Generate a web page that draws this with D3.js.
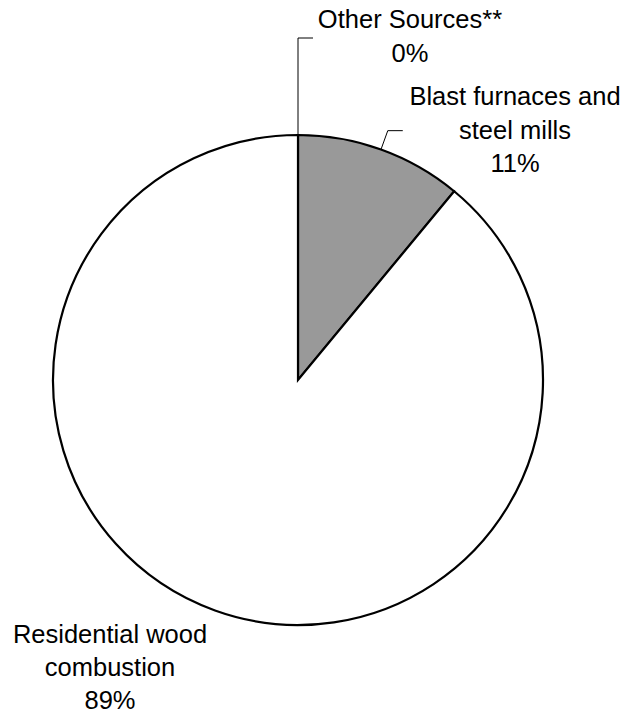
<!DOCTYPE html>
<html>
<head>
<meta charset="utf-8">
<script src="https://cdn.jsdelivr.net/npm/d3@7"></script>
<style>
  html, body { margin: 0; padding: 0; background: #fff; }
  svg { display: block; }
  text { font-family: "Liberation Sans", Arial, sans-serif; fill: #000; }
</style>
</head>
<body>
<svg id="chart" width="625" height="715"></svg>
<script>
// ---- data ----
const categories = ["Other Sources**", "Blast furnaces and steel mills", "Residential wood combustion"];
const values = [0, 11, 89];
const labelLines = [
  ["Other Sources**", "0%"],
  ["Blast furnaces and", "steel mills", "11%"],
  ["Residential wood", "combustion", "89%"]
];
const fills = ["#000000", "#999999", "#ffffff"];

// ---- layout ----
const W = 625, H = 715;
const cx = 298, cy = 380, R = 245;
const fontSize = 25.5, lineH = 33;
// label block centres (offset from pie centre) and leader settings
const labelLayout = [
  { dx: 112, firstBaseline: 28, leader: { elbowR: R + 97, tail: 15 } },
  { dx: 217, firstBaseline: 105, leader: { elbowR: R + 20, tail: 15 } },
  { dx: -188, firstBaseline: 643, leader: null }
];

const svg = d3.select("#chart");
const g = svg.append("g").attr("transform", `translate(${cx},${cy})`);

const pie = d3.pie().sort(null).value(d => d).startAngle(0).endAngle(2 * Math.PI);
const arcs = pie(values);
const arc = d3.arc().innerRadius(0).outerRadius(R);

g.selectAll("path.slice")
  .data(arcs)
  .join("path")
  .attr("class", "slice")
  .attr("d", arc)
  .attr("fill", (d, i) => fills[i])
  .attr("stroke", "#000")
  .attr("stroke-width", 2.2)
  .attr("stroke-linejoin", "miter");

// leader lines
arcs.forEach((d, i) => {
  const L = labelLayout[i].leader;
  if (!L) return;
  const a = (d.startAngle + d.endAngle) / 2;
  const p0 = [R * Math.sin(a), -R * Math.cos(a)];
  const p1 = [L.elbowR * Math.sin(a), -L.elbowR * Math.cos(a)];
  const p2 = [p1[0] + L.tail, p1[1]];
  g.append("path")
    .attr("d", d3.line()([p0, p1, p2]))
    .attr("fill", "none")
    .attr("stroke", "#000")
    .attr("stroke-width", 1);
});

// labels
labelLines.forEach((lines, i) => {
  const lay = labelLayout[i];
  const t = svg.append("text")
    .attr("text-anchor", "middle")
    .attr("font-size", fontSize);
  lines.forEach((ln, j) => {
    t.append("tspan")
      .attr("x", cx + lay.dx)
      .attr("y", lay.firstBaseline + j * (i === 2 ? lineH : 33.5))
      .text(ln);
  });
});
</script>
</body>
</html>
